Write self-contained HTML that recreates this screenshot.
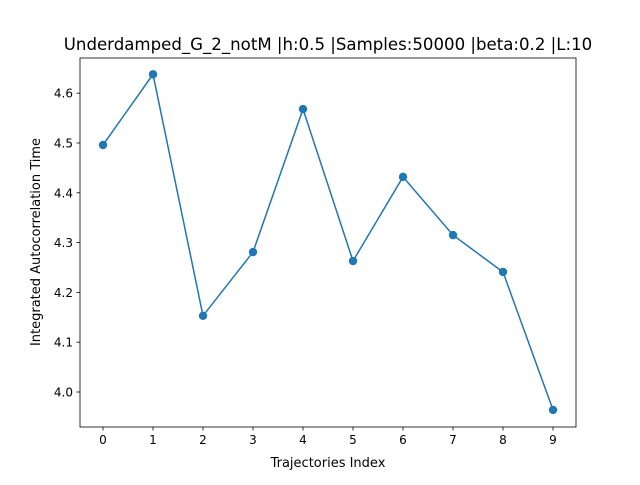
<!DOCTYPE html>
<html><head><meta charset="utf-8"><style>
body{margin:0;background:#fff;font-family:"Liberation Sans","DejaVu Sans",sans-serif}
svg text{font-family:"DejaVu Sans","Liberation Sans",sans-serif}
</style></head><body>
<svg id="chart" width="640" height="480" xmlns="http://www.w3.org/2000/svg">
<rect width="640" height="480" fill="#fff"/>
<text x="328" y="50" font-size="16.6" text-anchor="middle">Underdamped_G_2_notM |h:0.5 |Samples:50000 |beta:0.2 |L:10</text>
<g id="axes"></g>
<text x="328" y="467" font-size="13" text-anchor="middle">Trajectories Index</text>
<text transform="translate(40,242) rotate(-90)" font-size="13" text-anchor="middle">Integrated Autocorrelation Time</text>
</svg>
<script>
const categories=[0,1,2,3,4,5,6,7,8,9];
const values=[4.496,4.638,4.153,4.281,4.568,4.263,4.432,4.315,4.241,3.964];
const yTicks=[4.0,4.1,4.2,4.3,4.4,4.5,4.6];
const yTickLabels=["4.0","4.1","4.2","4.3","4.4","4.5","4.6"];
const L=80,R=576,T=58,B=427;
const xs=v=>103+(v-0)*50;
const ys=v=>392-(v-4.0)*498;
const NS="http://www.w3.org/2000/svg";
const g=document.getElementById('axes');
function mk(t,a,txt){const e=document.createElementNS(NS,t);for(const k in a)e.setAttribute(k,a[k]);if(txt!==undefined)e.textContent=txt;g.appendChild(e);return e;}
const frame=mk('rect',{x:L,y:T,width:R-L,height:B-T,fill:'none',stroke:'#000','stroke-width':0.8});


categories.forEach(c=>{
 const t=mk('line',{x1:xs(c),x2:xs(c),y1:B,y2:B+3.5,stroke:'#000','stroke-width':0.8});
 
 
 const l=mk('text',{x:xs(c),y:B+17,'font-size':12,'text-anchor':'middle'},String(c));
 
 
});
yTicks.forEach((v,i)=>{
 const t=mk('line',{x1:L-3.5,x2:L,y1:ys(v),y2:ys(v),stroke:'#000','stroke-width':0.8});
 
 
 const l=mk('text',{x:L-7,y:ys(v)+4.5,'font-size':12,'text-anchor':'end'},yTickLabels[i]);
 
 
});
const line=mk('polyline',{points:categories.map((c,i)=>xs(c)+','+ys(values[i])).join(' '),fill:'none',stroke:'#1f77b4','stroke-width':1.5});


categories.forEach((c,i)=>{
 const p=mk('circle',{cx:xs(c),cy:ys(values[i]),r:4.2,fill:'#1f77b4'});
 
 
});
</script>
</body></html>
